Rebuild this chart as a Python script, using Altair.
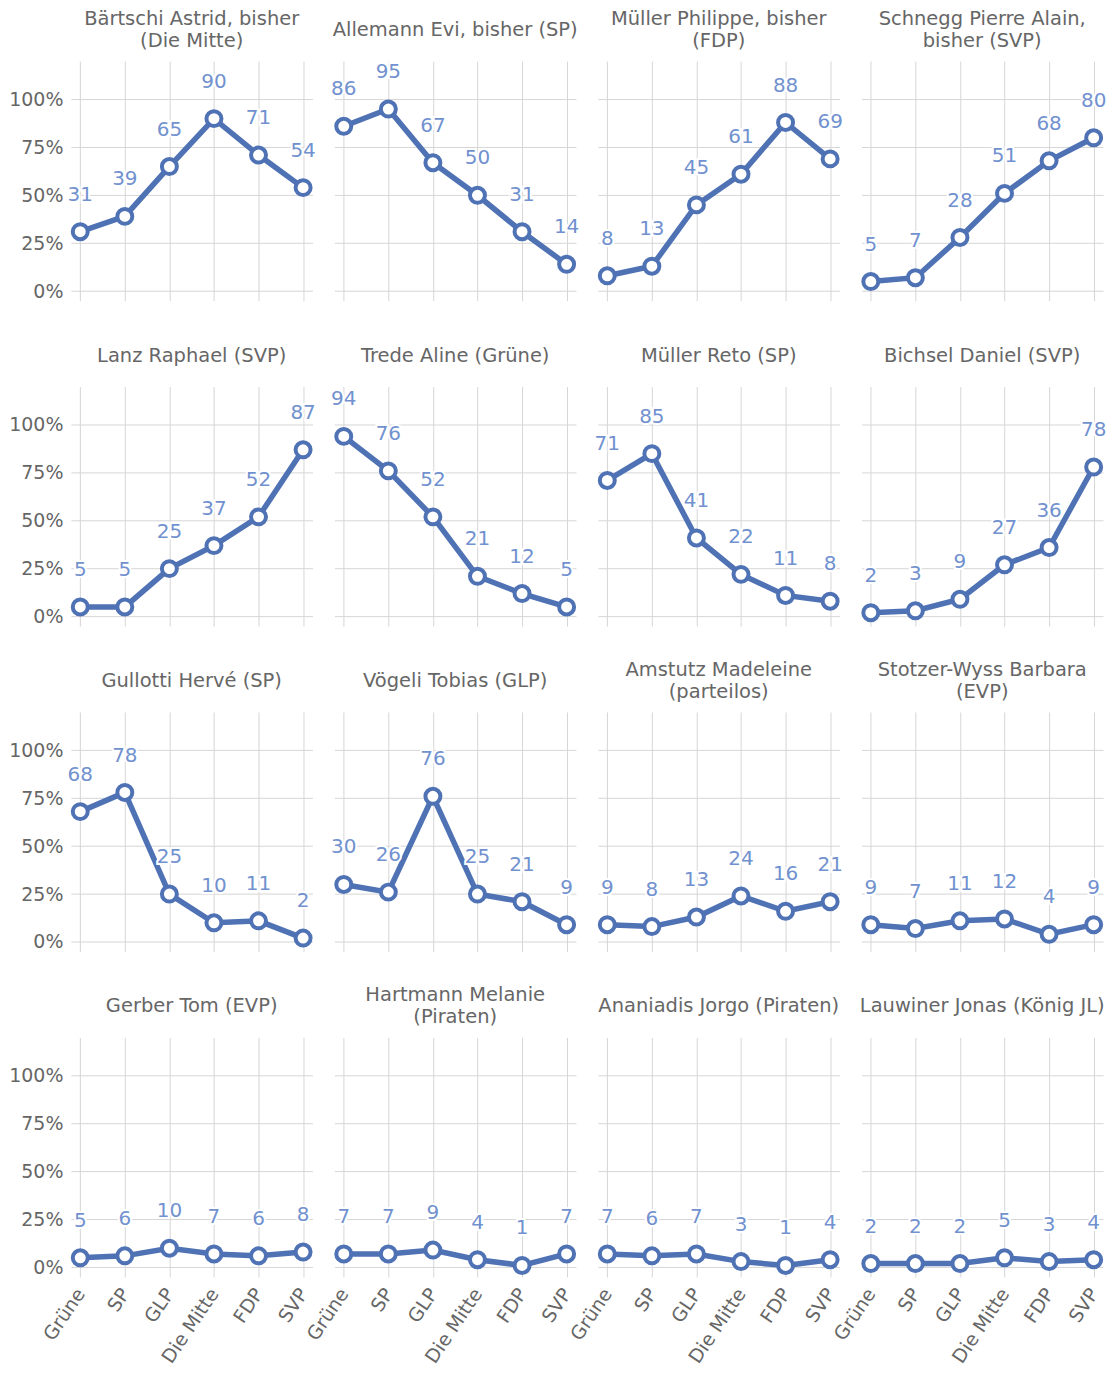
import altair as alt
import pandas as pd

parties = ["Grüne", "SP", "GLP", "Die Mitte", "FDP", "SVP"]

candidates = [
    "Bärtschi Astrid, bisher|(Die Mitte)",
    "Allemann Evi, bisher (SP)",
    "Müller Philippe, bisher|(FDP)",
    "Schnegg Pierre Alain,|bisher (SVP)",
    "Lanz Raphael (SVP)",
    "Trede Aline (Grüne)",
    "Müller Reto (SP)",
    "Bichsel Daniel (SVP)",
    "Gullotti Hervé (SP)",
    "Vögeli Tobias (GLP)",
    "Amstutz Madeleine|(parteilos)",
    "Stotzer-Wyss Barbara|(EVP)",
    "Gerber Tom (EVP)",
    "Hartmann Melanie|(Piraten)",
    "Ananiadis Jorgo (Piraten)",
    "Lauwiner Jonas (König JL)",
]

values = [
    [31, 39, 65, 90, 71, 54],
    [86, 95, 67, 50, 31, 14],
    [8, 13, 45, 61, 88, 69],
    [5, 7, 28, 51, 68, 80],
    [5, 5, 25, 37, 52, 87],
    [94, 76, 52, 21, 12, 5],
    [71, 85, 41, 22, 11, 8],
    [2, 3, 9, 27, 36, 78],
    [68, 78, 25, 10, 11, 2],
    [30, 26, 76, 25, 21, 9],
    [9, 8, 13, 24, 16, 21],
    [9, 7, 11, 12, 4, 9],
    [5, 6, 10, 7, 6, 8],
    [7, 7, 9, 4, 1, 7],
    [7, 6, 7, 3, 1, 4],
    [2, 2, 2, 5, 3, 4],
]

rows = []
for ci, (c, vals) in enumerate(zip(candidates, values)):
    for pi, (p, v) in enumerate(zip(parties, vals)):
        rows.append({"cand": c, "order": ci, "party": p, "pidx": pi, "value": v})
df = pd.DataFrame(rows)

LINE = "#4f72b5"
LABEL = "#7191cf"
GREY = "#666666"
FONT = "DejaVu Sans"
W, H = 242, 240

x = alt.X("party:N", sort=parties, title=None,
          scale=alt.Scale(type="point", padding=0.21),
          axis=alt.Axis(labelAngle=-56, labelFontSize=19, labelColor=GREY,
                        labelFont=FONT, ticks=False, domain=False, labelPadding=13,
                        grid=True, gridColor="#d6d6d6", labelAlign="right",
                        labelBaseline="middle"))
y = alt.Y("value:Q", title=None,
          scale=alt.Scale(domain=[-5, 120], nice=False, zero=False),
          axis=alt.Axis(values=[0, 25, 50, 75, 100], labelExpr="datum.value + '%'",
                        labelFontSize=19, labelColor=GREY, labelFont=FONT,
                        ticks=False, domain=False, labelPadding=8,
                        gridColor="#d6d6d6"))

base = alt.Chart().encode(x=x, y=y)

line = base.mark_line(color=LINE, strokeWidth=5.5)
pts = base.mark_point(shape="circle", filled=True, fill="white", stroke=LINE,
                      strokeWidth=4, size=225, opacity=1)
halo = base.mark_text(dy=-37, fontSize=20, font=FONT, stroke="white",
                      strokeWidth=4, color="white").encode(text="value:Q")
txt = base.mark_text(dy=-37, fontSize=20, font=FONT, color=LABEL).encode(text="value:Q")

title_style = dict(fontSize=19.5, font=FONT, color=GREY, baseline="middle",
                   align="center", lineBreak="|", lineHeight=22)
title1 = alt.Chart().transform_filter(
    "datum.pidx == 0 && indexof(datum.cand, '|') < 0"
).mark_text(**title_style).encode(x=alt.value(W / 2), y=alt.value(-31), text="cand:N")
title2 = alt.Chart().transform_filter(
    "datum.pidx == 0 && indexof(datum.cand, '|') >= 0"
).mark_text(**title_style).encode(x=alt.value(W / 2), y=alt.value(-42), text="cand:N")

layer = alt.layer(line, pts, halo, txt, title1, title2, data=df).properties(width=W, height=H)

chart = layer.facet(
    facet=alt.Facet("cand:N", sort=alt.SortField("order"), title=None,
                    header=alt.Header(labelExpr="''", labelFontSize=1,
                                      labelPadding=0, title=None)),
    columns=4,
    spacing={"row": 86, "column": 22},
    bounds="flush",
).properties(padding={"left": 0, "top": -1, "right": 0, "bottom": 0}).configure_view(stroke=None)

chart.save("out.html", embed_options={"renderer": "svg", "actions": False})
